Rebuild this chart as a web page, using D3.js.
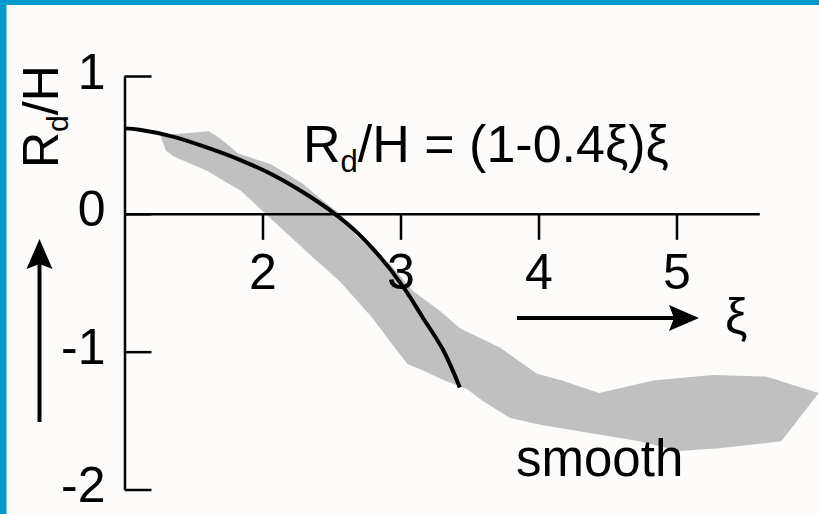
<!DOCTYPE html>
<html>
<head>
<meta charset="utf-8">
<script src="https://cdn.jsdelivr.net/npm/d3@7"></script>
<style>
  html, body { margin: 0; padding: 0; background: #fdfcfa; }
  svg { display: block; }
  text { font-family: "Liberation Sans", Arial, Helvetica, sans-serif; fill: #000; }
</style>
</head>
<body>
<svg id="chart" width="819" height="514"></svg>
<script>
// Measured scatter band of R_d/H against ξ (upper and lower envelope)
const bandUpperXi = [1.26, 1.38, 1.61, 1.69, 1.82, 2.06, 2.29, 2.42, 2.56, 2.68, 2.92, 3.09, 3.28, 3.43, 3.72, 3.99, 4.17, 4.44, 4.83, 5.26, 5.65, 6.03];
const bandUpperR  = [0.57, 0.58, 0.60, 0.55, 0.44, 0.36, 0.22, 0.11, 0.00, -0.16, -0.36, -0.56, -0.70, -0.83, -0.97, -1.16, -1.21, -1.30, -1.21, -1.17, -1.18, -1.30];
const bandLowerXi = [1.30, 1.35, 1.60, 1.84, 1.98, 2.13, 2.37, 2.56, 2.80, 2.92, 3.05, 3.17, 3.32, 3.48, 3.60, 3.79, 4.01, 4.73, 5.02, 5.31, 5.76];
const bandLowerR  = [0.46, 0.42, 0.31, 0.17, 0.04, -0.10, -0.32, -0.49, -0.76, -0.92, -1.09, -1.14, -1.21, -1.27, -1.36, -1.48, -1.53, -1.65, -1.72, -1.70, -1.65];

// Fitted curve R_d/H = (1-0.4ξ)ξ, as plotted
const fitXi = [1.00, 1.11, 1.35, 1.60, 1.84, 2.08, 2.32, 2.51, 2.69, 2.85, 3.02, 3.16, 3.31, 3.43];
const fitR  = [0.62, 0.61, 0.56, 0.48, 0.39, 0.28, 0.14, 0.01, -0.14, -0.31, -0.53, -0.75, -0.99, -1.26];

// Axis ticks
const xTicks = [2, 3, 4, 5];
const yTicks = [1, 0, -1, -2];

const svg = d3.select("#chart");
const W = 819, H = 514;

// frame: blue strip on top and left
svg.append("rect").attr("width", W).attr("height", H).attr("fill", "#fdfcfa");
svg.append("rect").attr("x", 0).attr("y", 0).attr("width", W).attr("height", 5).attr("fill", "#0099cc");
svg.append("rect").attr("x", 0).attr("y", 0).attr("width", 6.5).attr("height", H).attr("fill", "#0099cc");

const x = d3.scaleLinear().domain([1, 6]).range([124.5, 124.5 + 5 * 138]);
const y = d3.scaleLinear().domain([-2, 1]).range([489.5, 76]);

// grey band
const bandPts = bandUpperXi.map((v, i) => [v, bandUpperR[i]])
  .concat(bandLowerXi.map((v, i) => [v, bandLowerR[i]]).reverse());
const poly = d3.line().x(d => x(d[0])).y(d => y(d[1])).curve(d3.curveLinearClosed);
svg.append("path").attr("d", poly(bandPts)).attr("fill", "#c0c0c0").attr("stroke", "none");

// y axis: ticks pointing inward, labels on the left
const fmt = d => String(d);
const yAxis = d3.axisLeft(y).tickValues(yTicks).tickSize(-27).tickSizeOuter(0).tickPadding(19)
  .tickFormat(fmt);
const gy = svg.append("g").attr("transform", `translate(${x(1)},0)`).call(yAxis);

// x axis along R = 0, running from ξ = 1 to 5.6
const xAxisScale = d3.scaleLinear().domain([1, 5.6]).range([x(1), x(5.6)]);
const xAxis = d3.axisBottom(xAxisScale).tickValues(xTicks).tickSize(26).tickSizeOuter(0).tickPadding(14)
  .tickFormat(fmt);
const gx = svg.append("g").attr("transform", `translate(0,${y(0)})`).call(xAxis);

[gx, gy].forEach(g => {
  g.select(".domain").attr("stroke", "#000").attr("stroke-width", 2.5);
  g.selectAll(".tick line").attr("stroke", "#000").attr("stroke-width", 2.5);
  g.selectAll(".tick text").attr("font-size", 50).attr("fill", "#000")
    .attr("font-family", "'Liberation Sans', Arial, sans-serif");
});
gy.selectAll(".tick text").attr("dy", "0.24em");

// fitted curve
const fitLine = d3.line().x(d => x(d[0])).y(d => y(d[1])).curve(d3.curveCatmullRom.alpha(0.5));
svg.append("path").attr("d", fitLine(fitXi.map((v, i) => [v, fitR[i]])))
  .attr("fill", "none").attr("stroke", "#000").attr("stroke-width", 4).attr("stroke-linecap", "butt");

// equation
const eq = svg.append("text").attr("x", 303).attr("y", 162).attr("font-size", 52);
eq.append("tspan").text("R");
eq.append("tspan").attr("font-size", 31).attr("dy", 10).text("d");
eq.append("tspan").attr("dy", -10).text("/H = (1-0.4ξ)ξ");

// y axis title, rotated
const yt = svg.append("text").attr("transform", "translate(58,168) rotate(-90)").attr("font-size", 50);
yt.append("tspan").text("R");
yt.append("tspan").attr("font-size", 30).attr("dy", 10).text("d");
yt.append("tspan").attr("dy", -10).text("/H");

// arrows
function arrow(x1, y1, x2, y2) {
  const ang = Math.atan2(y2 - y1, x2 - x1);
  const len = 30, half = 13, notch = 5;
  const bx = x2 - len * Math.cos(ang), by = y2 - len * Math.sin(ang);
  const nx = -Math.sin(ang), ny = Math.cos(ang);
  const mx = x2 - (len - notch) * Math.cos(ang), my = y2 - (len - notch) * Math.sin(ang);
  svg.append("line").attr("x1", x1).attr("y1", y1).attr("x2", mx).attr("y2", my)
    .attr("stroke", "#000").attr("stroke-width", 4);
  svg.append("path")
    .attr("d", `M${x2},${y2}L${bx + nx * half},${by + ny * half}L${mx},${my}L${bx - nx * half},${by - ny * half}Z`)
    .attr("fill", "#000");
}
arrow(39.5, 422, 39.5, 239);
arrow(517, 318, 699, 318);

svg.append("text").attr("x", 725).attr("y", 333).attr("font-size", 50).text("ξ");
svg.append("text").attr("x", 516).attr("y", 476).attr("font-size", 51).text("smooth");
</script>
</body>
</html>
